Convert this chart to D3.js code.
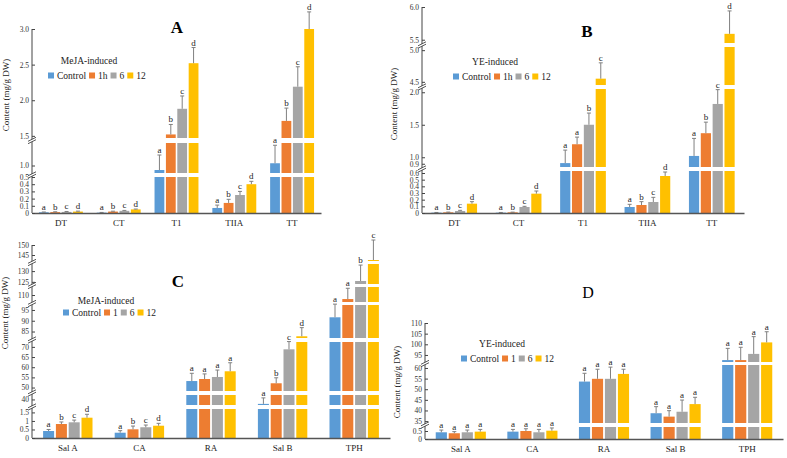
<!DOCTYPE html>
<html lang="en">
<head>
<meta charset="UTF-8">
<script src="https://d3js.org/d3.v7.min.js"></script>
<title>MeJA / YE induced content</title>
<style>
  body { margin: 0; background: #fff; }
  svg text { font-family: "Liberation Serif", "Times New Roman", serif; fill: #222; }
</style>
</head>
<body>
<svg id="fig" width="787" height="458"></svg>
<script>
const compoundsAB = ["DT", "CT", "T1", "TIIA", "TT"];
const compoundsCD = ["Sal A", "CA", "RA", "Sal B", "TPH"];
const seriesAB = ["Control", "1h", "6", "12"];
const seriesCD = ["Control", "1", "6", "12"];
const colors = ["#5b9bd5", "#ed7d31", "#a5a5a5", "#ffc000"];

// one row per compound, one column per series
const meansA = [[0.01, 0.012, 0.015, 0.02], [0.005, 0.02, 0.03, 0.05], [0.94, 1.52, 1.88, 2.52], [0.07, 0.14, 0.25, 0.40], [1.03, 1.71, 2.19, 3.0]];
const errsA  = [[0.004, 0.005, 0.006, 0.006], [0.003, 0.005, 0.006, 0.005], [0.2, 0.14, 0.18, 0.22], [0.04, 0.05, 0.05, 0.04], [0.24, 0.18, 0.28, 0.24]];
const lettersA = [["a","b","c","d"], ["a","b","c","d"], ["a","b","c","d"], ["a","b","c","d"], ["a","b","c","d"]];

const meansB = [[0.005, 0.01, 0.03, 0.14], [0.005, 0.01, 0.09, 0.29], [0.91, 1.2, 1.5, 4.55], [0.09, 0.12, 0.165, 0.555], [1.02, 1.37, 1.82, 5.59]];
const errsB  = [[0.003, 0.004, 0.01, 0.03], [0.003, 0.003, 0.01, 0.04], [0.2, 0.11, 0.18, 0.25], [0.04, 0.05, 0.07, 0.06], [0.27, 0.17, 0.22, 0.35]];
const lettersB = [["a","b","c","d"], ["a","b","c","d"], ["a","a","b","c"], ["a","b","c","d"], ["a","b","c","d"]];

const meansC = [[0.41, 0.82, 0.92, 1.19], [0.31, 0.51, 0.63, 0.72], [53.2, 54.2, 55.2, 58], [38, 52.1, 68.8, 82.8], [91.6, 108.1, 125.4, 142.5]];
const errsC  = [[0.09, 0.12, 0.13, 0.2], [0.12, 0.19, 0.13, 0.14], [3.8, 2.5, 3.4, 4.2], [2.7, 2.7, 3.8, 4], [6.1, 5.1, 7.4, 10]];
const lettersC = [["a","b","c","d"], ["a","b","c","d"], ["a","a","a","a"], ["a","b","c","d"], ["a","a","b","c"]];

const meansD = [[0.42, 0.36, 0.42, 0.46], [0.46, 0.5, 0.42, 0.52], [53.6, 54.9, 54.9, 57.2], [38.7, 37.1, 39.4, 43], [92.6, 92.6, 95.5, 100.9]];
const errsD  = [[0.14, 0.1, 0.14, 0.14], [0.14, 0.14, 0.18, 0.17], [3.9, 4.5, 5.5, 2.2], [3.1, 2.8, 5.5, 3.2], [5.5, 6, 8.1, 5]];
const lettersD = [["a","a","a","a"], ["a","a","a","a"], ["a","a","a","a"], ["a","a","a","a"], ["a","a","a","a"]];

const ticksA = [0, 0.1, 0.2, 0.3, 0.4, 0.5, 1.0, 1.5, 2.0, 2.5, 3.0];
const ticksB = [0, 0.1, 0.2, 0.3, 0.4, 0.5, 0.6, 0.9, 1.0, 1.5, 2.0, 4.5, 5.0, 5.5, 6.0];
const ticksC = [0, 0.5, 1, 1.5, 40, 50, 55, 60, 65, 70, 85, 90, 95, 110, 125, 130, 145, 150];
const ticksD = [0, 0.5, 35, 40, 45, 50, 55, 60, 95, 100, 105, 110];

const fmtOne = d => d === 0 ? "0" : d.toFixed(1);
const fmtPlain = d => String(d);

const svg = d3.select("#fig");

// broken y axis: each piece maps a value range onto a pixel range
const panels = [
  { title: "A", bold: true, titleX: 177, titleY: 33, cats: compoundsAB, series: seriesAB,
    means: meansA, errs: errsA, letters: lettersA, ticks: ticksA, fmt: fmtOne,
    xRange: [32, 321], pad: 0.24, base: 213,
    segs: [{ domain: [0, 0.5], range: [213, 177] }, { domain: [0.9, 1.3], range: [173, 143] }, { domain: [1.47, 3.0], range: [138, 29] }],
    legendTitle: "MeJA-induced", legendTitleX: 89, legendTitleY: 64, legendX: 48, legendY: 79,
    labelX: 9, labelY: 95 },
  { title: "B", bold: true, titleX: 587, titleY: 37, cats: compoundsAB, series: seriesAB,
    means: meansB, errs: errsB, letters: lettersB, ticks: ticksB, fmt: fmtOne,
    xRange: [422, 744], pad: 0.29, base: 213,
    segs: [{ domain: [0, 0.63], range: [213, 171] }, { domain: [0.85, 2.05], range: [167, 89] },
           { domain: [4.45, 5.05], range: [85, 47] }, { domain: [5.45, 6.0], range: [43, 7] }],
    legendTitle: "YE-induced", legendTitleX: 495, legendTitleY: 65, legendX: 453, legendY: 80,
    labelX: 397, labelY: 104 },
  { title: "C", bold: true, titleX: 178, titleY: 287, cats: compoundsCD, series: seriesCD,
    means: meansC, errs: errsC, letters: lettersC, ticks: ticksC, fmt: fmtPlain,
    xRange: [32, 390], pad: 0.31, base: 438,
    segs: [{ domain: [0, 1.7], range: [438, 409] }, { domain: [37.5, 42], range: [405, 395] },
           { domain: [48.3, 72.4], range: [391, 342] }, { domain: [82, 97.3], range: [338, 305] },
           { domain: [106.7, 113.8], range: [302, 287] }, { domain: [124, 133.3], range: [284, 264] },
           { domain: [142, 150], range: [261, 245] }],
    legendTitle: "MeJA-induced", legendTitleX: 106, legendTitleY: 304, legendX: 63, legendY: 316,
    labelX: 8, labelY: 313 },
  { title: "D", bold: false, titleX: 588, titleY: 298, cats: compoundsCD, series: seriesCD,
    means: meansD, errs: errsD, letters: lettersD, ticks: ticksD, fmt: fmtPlain,
    xRange: [425, 783], pad: 0.3, base: 439,
    segs: [{ domain: [0, 0.75], range: [439, 427] }, { domain: [34.1, 61.4], range: [423, 365] },
           { domain: [91.7, 110], range: [362, 323] }],
    legendTitle: "YE-induced", legendTitleX: 502, legendTitleY: 347, legendX: 461, legendY: 362,
    labelX: 400, labelY: 382 }
];

panels.forEach(drawPanel);

function drawPanel(p) {
  const g = svg.append("g");
  const segScales = p.segs.map(s => d3.scaleLinear().domain(s.domain).range(s.range));
  const y = v => {
    let i = segScales.length - 1;
    while (i > 0 && v < p.segs[i].domain[0]) i--;
    return segScales[i](v);
  };
  const axisX = p.xRange[0];

  const x0 = d3.scaleBand().domain(p.cats).range(p.xRange).paddingInner(p.pad).paddingOuter(p.pad / 2);
  const x1 = d3.scaleBand().domain(p.series).range([0, x0.bandwidth()]).paddingInner(0.14);

  const rows = p.cats.flatMap((c, i) => p.series.map((s, j) =>
    ({ c, s, j, v: p.means[i][j], e: p.errs[i][j], l: p.letters[i][j] })));

  // bars, split into one piece per axis segment
  rows.forEach(d => {
    const bx = x0(d.c) + x1(d.s);
    segScales.forEach((sc, k) => {
      const dom = p.segs[k].domain;
      if (k > 0 && d.v <= dom[0]) return;
      const top = k === segScales.length - 1 ? d.v : Math.min(d.v, dom[1]);
      g.append("rect")
        .attr("x", bx)
        .attr("width", x1.bandwidth())
        .attr("y", sc(top))
        .attr("height", Math.max(0, sc(dom[0]) - sc(top)))
        .attr("fill", colors[d.j]);
    });
  });

  // error bars and letters
  rows.forEach(d => {
    const cx = x0(d.c) + x1(d.s) + x1.bandwidth() / 2;
    const yTop = y(d.v + d.e);
    g.append("line").attr("x1", cx).attr("x2", cx).attr("y1", y(d.v)).attr("y2", yTop)
      .attr("stroke", "#808080").attr("stroke-width", 1);
    g.append("line").attr("x1", cx - 2).attr("x2", cx + 2).attr("y1", yTop).attr("y2", yTop)
      .attr("stroke", "#808080").attr("stroke-width", 1);
    g.append("text").attr("x", cx).attr("y", yTop - 2)
      .attr("text-anchor", "middle").style("font-size", "9px").text(d.l);
  });

  // x axis
  const xa = g.append("g")
    .attr("transform", `translate(0,${p.base})`)
    .call(d3.axisBottom(x0).tickSize(0).tickSizeOuter(0).tickPadding(7));
  xa.select(".domain").attr("stroke", "#555").attr("stroke-width", 1.4);
  xa.selectAll("text").style("font-size", "9px").style("fill", "#222");

  // y axis, one d3 axis per segment
  segScales.forEach((sc, k) => {
    const dom = p.segs[k].domain;
    const tv = p.ticks.filter(t => t >= dom[0] - 1e-9 && t <= dom[1] + 1e-9);
    const ya = g.append("g")
      .attr("transform", `translate(${axisX},0)`)
      .call(d3.axisLeft(sc).tickValues(tv).tickFormat(p.fmt).tickSizeInner(-3).tickSizeOuter(0).tickPadding(3));
    ya.select(".domain").remove();
    ya.selectAll(".tick line").attr("stroke", "#444");
    ya.selectAll("text").style("font-size", "7.5px").style("fill", "#333");
  });
  const yTopAxis = p.segs[p.segs.length - 1].range[1];
  g.append("line").attr("x1", axisX).attr("x2", axisX).attr("y1", p.base).attr("y2", yTopAxis)
    .attr("stroke", "#444").attr("stroke-width", 1);

  // break marks between segments
  for (let k = 0; k < p.segs.length - 1; k++) {
    const mid = (p.segs[k].range[1] + p.segs[k + 1].range[0]) / 2;
    g.append("polygon")
      .attr("points", `${axisX - 4},${mid + 3} ${axisX + 4},${mid - 1} ${axisX + 4},${mid - 3} ${axisX - 4},${mid + 1}`)
      .attr("fill", "#fff");
    [-1.2, 1.2].forEach(o => {
      g.append("line")
        .attr("x1", axisX - 4).attr("y1", mid + 2 + o)
        .attr("x2", axisX + 4).attr("y2", mid - 2 + o)
        .attr("stroke", "#444").attr("stroke-width", 0.9);
    });
  }

  // y label
  g.append("text")
    .attr("transform", `translate(${p.labelX},${p.labelY}) rotate(-90)`)
    .attr("text-anchor", "middle").style("font-size", "9px")
    .text("Content (mg/g DW)");

  // panel letter
  g.append("text").attr("x", p.titleX).attr("y", p.titleY)
    .attr("text-anchor", "middle")
    .style("font-size", p.bold ? "17px" : "16px")
    .style("font-weight", p.bold ? "bold" : "normal")
    .style("fill", "#000")
    .text(p.title);

  // legend
  g.append("text").attr("x", p.legendTitleX).attr("y", p.legendTitleY)
    .attr("text-anchor", "middle").style("font-size", "9.5px").text(p.legendTitle);
  let lx = p.legendX;
  p.series.forEach((s, j) => {
    g.append("rect").attr("x", lx).attr("y", p.legendY - 6.5).attr("width", 6).attr("height", 6)
      .attr("fill", colors[j]);
    const t = g.append("text").attr("x", lx + 9).attr("y", p.legendY)
      .style("font-size", "9.5px").text(s);
    lx += 9 + t.node().getComputedTextLength() + 3;
  });
}
</script>
</body>
</html>
